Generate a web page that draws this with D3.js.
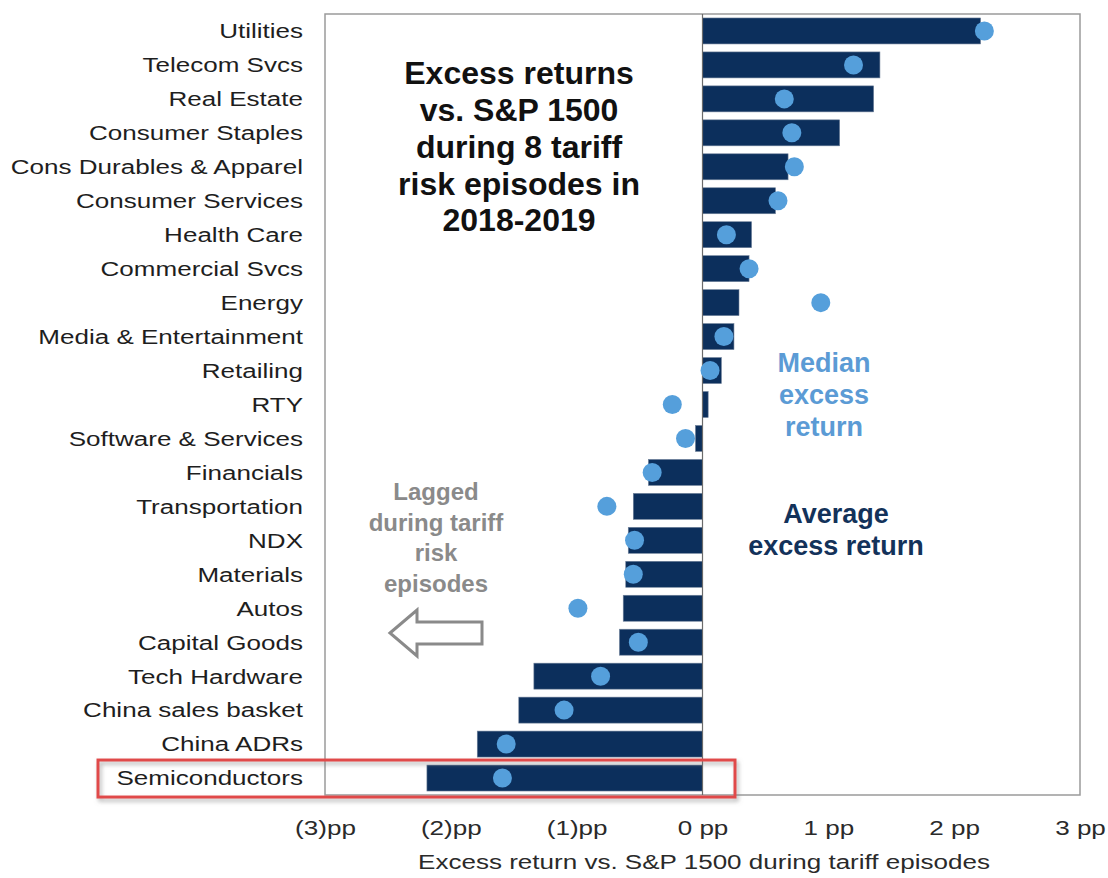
<!DOCTYPE html>
<html>
<head>
<meta charset="utf-8">
<script src="https://cdn.jsdelivr.net/npm/d3@7"></script>
<style>
  html, body { margin: 0; padding: 0; background: #fff; }
  svg { display: block; font-family: Arial, "Liberation Sans", sans-serif; }
</style>
</head>
<body>
<svg id="chart" width="1108" height="878"></svg>
<script>
// Sector / index excess returns vs. S&P 1500 across 8 tariff risk episodes
const categories = [
  "Utilities", "Telecom Svcs", "Real Estate", "Consumer Staples",
  "Cons Durables & Apparel", "Consumer Services", "Health Care",
  "Commercial Svcs", "Energy", "Media & Entertainment", "Retailing", "RTY",
  "Software & Services", "Financials", "Transportation", "NDX", "Materials",
  "Autos", "Capital Goods", "Tech Hardware", "China sales basket",
  "China ADRs", "Semiconductors"
];

// Average excess return (pp), drawn as bars
const avgReturn = [
  2.21, 1.41, 1.36, 1.09, 0.68, 0.58, 0.39, 0.37, 0.29, 0.25, 0.15, 0.045,
  -0.056, -0.43, -0.55, -0.59, -0.61, -0.63, -0.66, -1.34, -1.46, -1.79, -2.19
];

// Median excess return (pp), drawn as dots
const medianReturn = [
  2.24, 1.20, 0.65, 0.71, 0.73, 0.60, 0.19, 0.37, 0.94, 0.17, 0.06, -0.24,
  -0.135, -0.40, -0.76, -0.54, -0.55, -0.99, -0.51, -0.81, -1.10, -1.56, -1.59
];

const tickValues = [-3, -2, -1, 0, 1, 2, 3];
const tickLabels = ["(3)pp", "(2)pp", "(1)pp", "0 pp", "1 pp", "2 pp", "3 pp"];

const titleLines = ["Excess returns", "vs. S&P 1500", "during 8 tariff", "risk episodes in", "2018-2019"];
const medianNote = ["Median", "excess", "return"];
const averageNote = ["Average", "excess return"];
const laggedNote = ["Lagged", "during tariff", "risk", "episodes"];
const highlighted = "Semiconductors";

const rows = categories.map((c, i) => ({ name: c, avg: avgReturn[i], med: medianReturn[i] }));

const svg = d3.select("#chart");
const plot = { left: 325, right: 1080, top: 14, bottom: 795 };
const stretch = 1.24; // chart text is set wide
const labelSize = 21;

const x = d3.scaleLinear().domain([-3, 3]).range([plot.left, plot.right]);
const y = d3.scaleBand().domain(categories).range([plot.top, plot.bottom]).paddingInner(0.235).paddingOuter(0.117);

const navy = "#0c2f5c";
const blue = "#559fdb";

// shadow for the highlight box
const defs = svg.append("defs");
const f = defs.append("filter").attr("id", "shadow").attr("x", "-5%").attr("y", "-40%").attr("width", "110%").attr("height", "180%");
f.append("feDropShadow").attr("dx", 2).attr("dy", 3).attr("stdDeviation", 2)
  .attr("flood-color", "#777").attr("flood-opacity", 0.55);

// plot frame
svg.append("rect")
  .attr("x", plot.left).attr("y", plot.top)
  .attr("width", plot.right - plot.left).attr("height", plot.bottom - plot.top)
  .attr("fill", "none").attr("stroke", "#9a9a9a").attr("stroke-width", 1.5);

// average bars
svg.append("g").selectAll("rect").data(rows).join("rect")
  .attr("x", d => x(Math.min(0, d.avg)))
  .attr("y", d => y(d.name))
  .attr("width", d => Math.abs(x(d.avg) - x(0)))
  .attr("height", y.bandwidth())
  .attr("fill", navy)
  .attr("stroke", "#6f819a").attr("stroke-width", 0.6);

// zero line
svg.append("line")
  .attr("x1", x(0)).attr("x2", x(0))
  .attr("y1", plot.top).attr("y2", plot.bottom)
  .attr("stroke", "#6b6b6b").attr("stroke-width", 1.2);

// median dots
svg.append("g").selectAll("circle").data(rows).join("circle")
  .attr("cx", d => x(d.med))
  .attr("cy", d => y(d.name) + y.bandwidth() / 2)
  .attr("r", 9.5)
  .attr("fill", blue);

// category axis
const yAxis = svg.append("g")
  .attr("transform", `translate(303,0)`)
  .call(d3.axisLeft(y).tickSize(0).tickPadding(0));
yAxis.select(".domain").remove();
yAxis.selectAll("text")
  .attr("x", 0).attr("dy", "0.35em")
  .attr("transform", `scale(${stretch},1)`)
  .attr("font-size", labelSize).attr("fill", "#1e1e1e")
  .attr("font-family", "Arial, 'Liberation Sans', sans-serif");

// value axis
const xAxis = svg.append("g")
  .attr("transform", `translate(0,${plot.bottom})`)
  .call(d3.axisBottom(x).tickValues(tickValues)
    .tickFormat((d, i) => tickLabels[i]).tickSize(0).tickPadding(0));
xAxis.select(".domain").remove();
xAxis.selectAll("text")
  .attr("y", 33).attr("dy", "0.35em")
  .attr("transform", `scale(${stretch},1)`)
  .attr("font-size", labelSize).attr("fill", "#2a2a2a")
  .attr("font-family", "Arial, 'Liberation Sans', sans-serif");

// value axis title
svg.append("text")
  .attr("transform", `translate(704,862) scale(${stretch},1)`)
  .attr("text-anchor", "middle").attr("dy", "0.35em")
  .attr("font-size", labelSize).attr("fill", "#2a2a2a")
  .text("Excess return vs. S&P 1500 during tariff episodes");

// text block helper
function block(lines, cx, cy0, step, size, color) {
  const g = svg.append("g");
  lines.forEach((t, i) => {
    g.append("text")
      .attr("x", cx).attr("y", cy0 + i * step)
      .attr("text-anchor", "middle").attr("dy", "0.35em")
      .attr("font-size", size).attr("font-weight", "bold")
      .attr("fill", color).text(t);
  });
}

block(titleLines, 519, 73, 36.8, 32, "#111");
block(medianNote, 824, 363, 32, 27, "#5b9bd5");
block(averageNote, 836, 514, 32, 27, "#13325a");
block(laggedNote, 436, 492, 30.5, 24, "#8a8a8a");

// left-pointing outline arrow
const arrowPts = [[390, 633], [417, 610], [417, 622], [482, 622], [482, 644], [417, 644], [417, 656]];
svg.append("path")
  .attr("d", d3.line()(arrowPts) + "Z")
  .attr("fill", "#fff").attr("stroke", "#8a8a8a").attr("stroke-width", 3)
  .attr("stroke-linejoin", "miter");

// highlight box around the semiconductor row
const hy = y(highlighted) + y.bandwidth() / 2;
svg.append("rect")
  .attr("x", 98).attr("y", hy - 18)
  .attr("width", 637).attr("height", 37)
  .attr("fill", "none").attr("stroke", "#e04a4a").attr("stroke-width", 3)
  .attr("filter", "url(#shadow)");
</script>
</body>
</html>
